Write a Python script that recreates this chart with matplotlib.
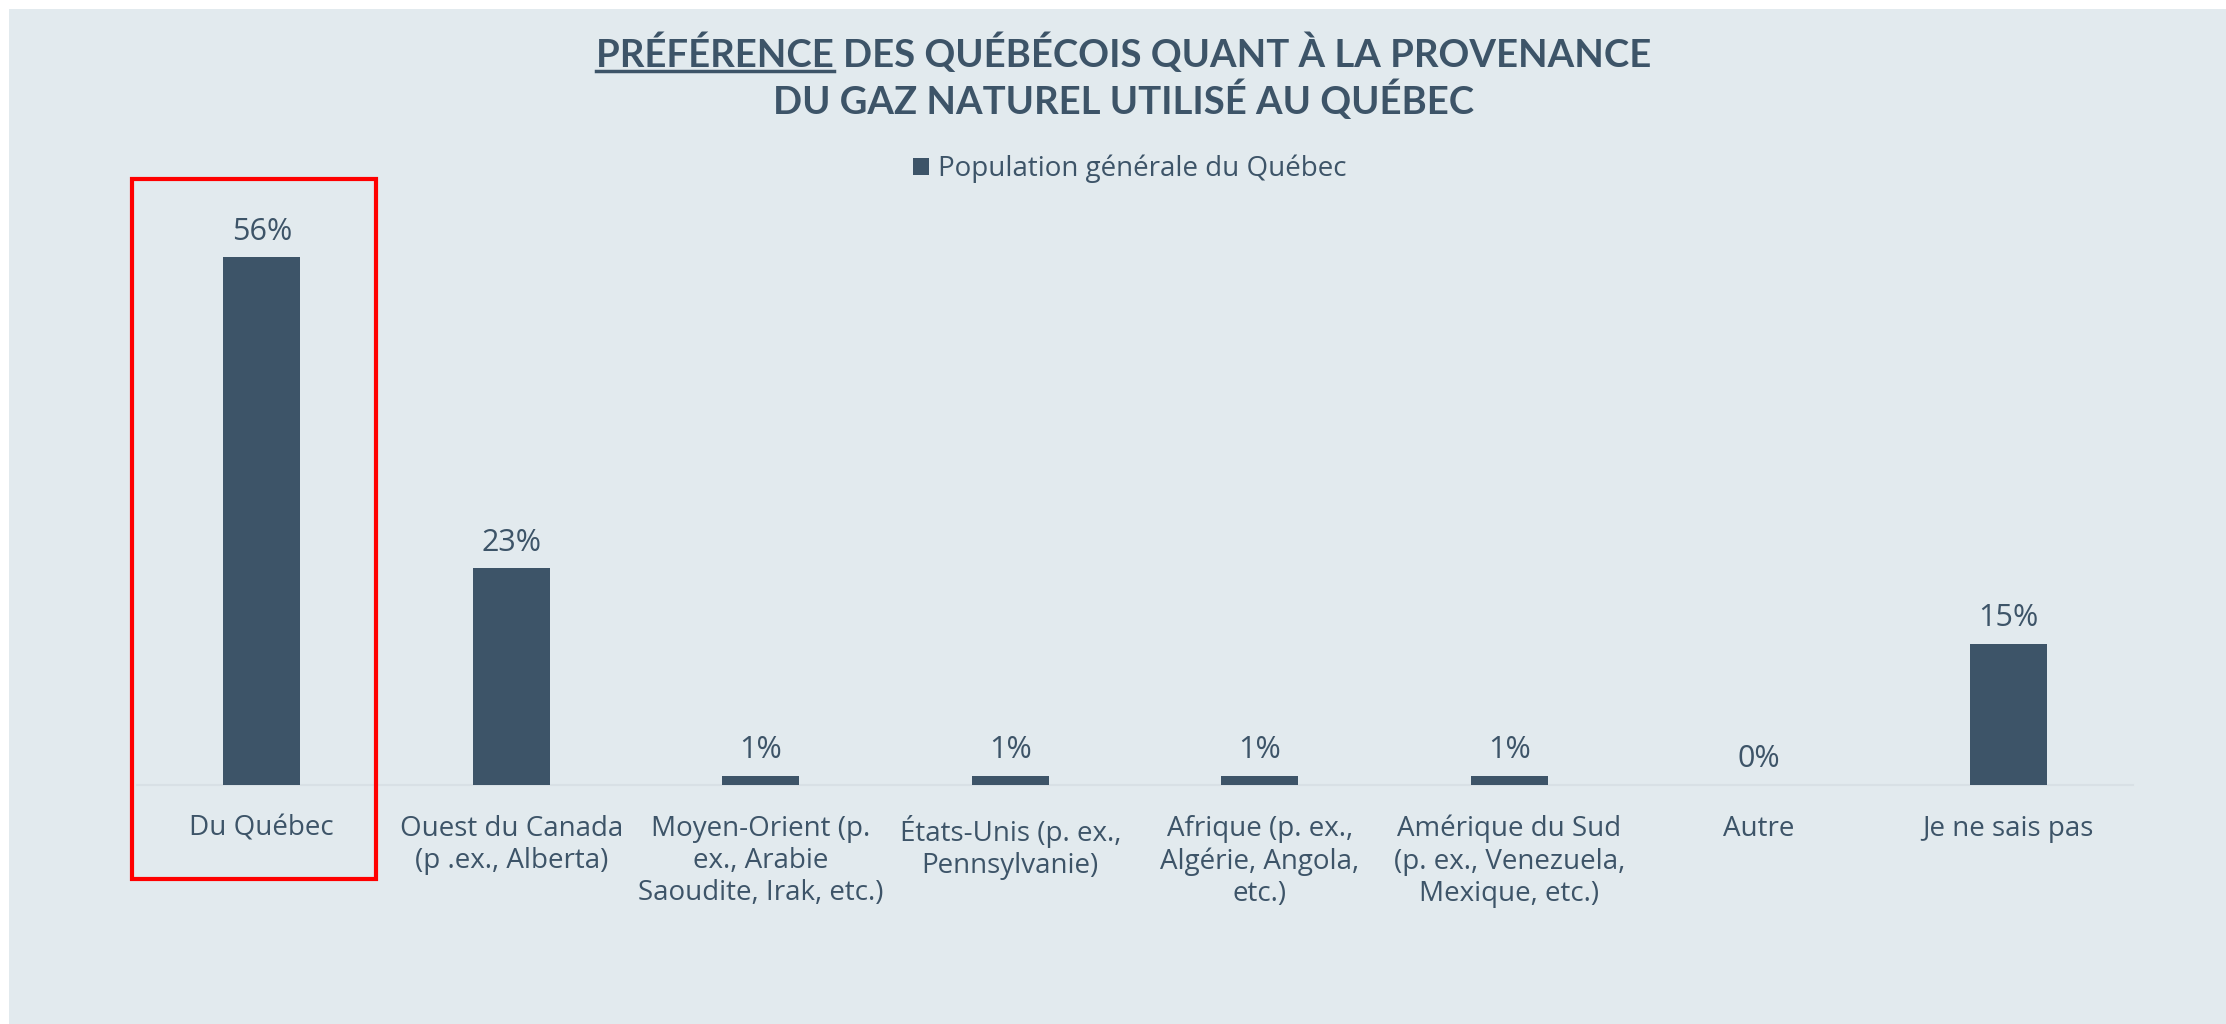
import matplotlib
matplotlib.use('Agg')
import matplotlib.pyplot as plt
from matplotlib.patches import Rectangle
from matplotlib.lines import Line2D

categories = [
    'Du Québec',
    'Ouest du Canada\n(p .ex., Alberta)',
    'Moyen-Orient (p.\nex., Arabie\nSaoudite, Irak, etc.)',
    'États-Unis (p. ex.,\nPennsylvanie)',
    'Afrique (p. ex.,\nAlgérie, Angola,\netc.)',
    'Amérique du Sud\n(p. ex., Venezuela,\nMexique, etc.)',
    'Autre',
    'Je ne sais pas',
]
values = [56, 23, 1, 1, 1, 1, 0, 15]
series_name = 'Population générale du Québec'
title_underlined = 'PRÉFÉRENCE'
title_line1 = 'PRÉFÉRENCE DES QUÉBÉCOIS QUANT À LA PROVENANCE'
title_line2 = 'DU GAZ NATUREL UTILISÉ AU QUÉBEC'

W, H = 2226, 1024
BG = '#E2EAEE'
BAR = '#3D5468'
TXT = '#3D5468'
BODY = ['Open Sans', 'DejaVu Sans']

plt.rcParams['font.family'] = ['Lato', 'DejaVu Sans']

fig = plt.figure(figsize=(W / 100, H / 100), dpi=100, facecolor='white')


def fx(px):
    return px / W


def fy(py):
    return 1 - py / H


# panel background
fig.add_artist(Rectangle((fx(9), 0), 1 - fx(9), fy(9), transform=fig.transFigure,
                         facecolor=BG, edgecolor='none', zorder=0))

ax_left, ax_right, ax_top, ax_bottom = 137, 2133, 180, 785
ax = fig.add_axes([fx(ax_left), fy(ax_bottom), fx(ax_right - ax_left),
                   (ax_bottom - ax_top) / H])
ax.set_facecolor('none')

x = list(range(len(categories)))
bars = ax.bar(x, values, width=0.31, color=BAR, zorder=3)
ax.set_xlim(-0.5, len(categories) - 0.5)
ax.set_ylim(0, 64.2)

for rect, v in zip(bars, values):
    ax.annotate(f'{v}%', (rect.get_x() + rect.get_width() / 2, rect.get_height()),
                xytext=(0, 18.5), textcoords='offset points', ha='center',
                va='center', fontsize=22, color=TXT, family=BODY)

ax.set_yticks([])
ax.set_xticks(x)
ax.set_xticklabels(categories, fontsize=20, color=TXT, linespacing=1.2, va='top',
                   family=BODY)
ax.tick_params(axis='x', length=0, pad=21.5)
for s in ['left', 'right', 'top']:
    ax.spines[s].set_visible(False)
ax.spines['bottom'].set_color('#D8E0E5')
ax.spines['bottom'].set_linewidth(1.5)

# title
tcx = 1124
t1 = fig.text(fx(tcx), fy(53), title_line1, ha='center', va='center',
              fontsize=27.5, fontweight='bold', color=TXT)
fig.text(fx(tcx), fy(100), title_line2, ha='center', va='center',
         fontsize=27.5, fontweight='bold', color=TXT)

fig.canvas.draw()
r = fig.canvas.get_renderer()
bb = t1.get_window_extent(r)
tu = fig.text(bb.x0 / W, fy(53), title_underlined, ha='left', va='center',
              fontsize=27.5, fontweight='bold', color=TXT, alpha=0)
bu = tu.get_window_extent(r)
uy = fy(71)
fig.add_artist(Line2D([bu.x0 / W, bu.x1 / W], [uy, uy], transform=fig.transFigure,
                      color=TXT, linewidth=2.5))

# legend
leg = ax.legend([bars[0]], [series_name], loc='center', bbox_to_anchor=(fx(1130), fy(169)),
                bbox_transform=fig.transFigure, frameon=False,
                prop={'family': BODY, 'size': 20},
                handlelength=0.55, handleheight=0.55, handletextpad=0.35)
for t in leg.get_texts():
    t.set_color(TXT)

# highlight box
fig.add_artist(Rectangle((fx(132), fy(879)), fx(376 - 132), (879 - 179) / H,
                         transform=fig.transFigure, facecolor='none',
                         edgecolor='#FF0000', linewidth=3))

fig.savefig('out.png', dpi=100, facecolor=fig.get_facecolor())
